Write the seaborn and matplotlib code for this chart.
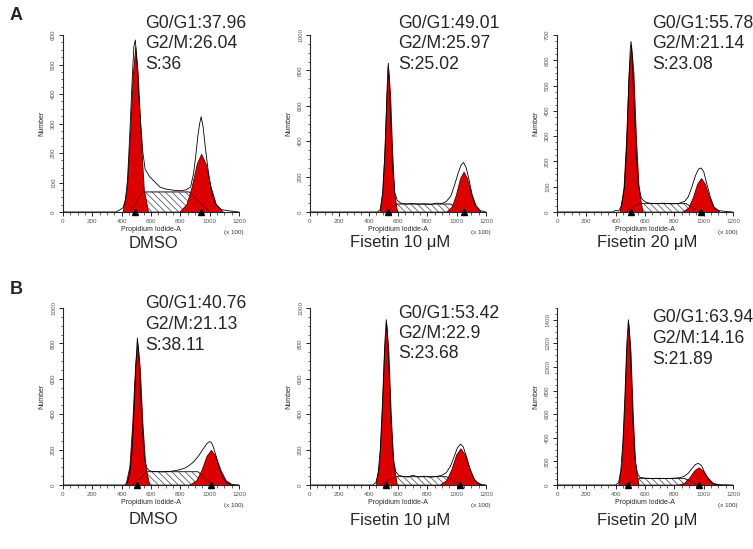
import numpy as np
import pandas as pd
import matplotlib
matplotlib.use("Agg")
import matplotlib.pyplot as plt
import seaborn as sns

# Panel order: A-DMSO, A-Fisetin10, A-Fisetin20, B-DMSO, B-Fisetin10, B-Fisetin20
conditions = ["DMSO", "Fisetin 10 μM", "Fisetin 20 μM", "DMSO", "Fisetin 10 μM", "Fisetin 20 μM"]
g1_pct = ["37.96", "49.01", "55.78", "40.76", "53.42", "63.94"]
g2m_pct = ["26.04", "25.97", "21.14", "21.13", "22.9", "14.16"]
s_pct = ["36", "25.02", "23.08", "38.11", "23.68", "21.89"]
y_max = [600, 1000, 700, 1000, 1000, 1500]
y_step = [100, 200, 100, 200, 200, 200]
x_ticks = [0, 200, 400, 600, 800, 1000, 1200]

# --- A, DMSO
a1_g1_x = [406, 435, 455, 476, 493, 510, 531, 551, 580]
a1_g1_y = [0, 76, 241, 468, 560, 468, 241, 76, 0]
a1_g2_x = [792, 842, 877, 912, 942, 972, 1007, 1042, 1092]
a1_g2_y = [0, 27, 85, 164, 197, 164, 85, 27, 0]
a1_s_x = [455, 545, 860, 1000]
a1_s_y = [0, 68, 68, 0]
a1_h_x = [0, 360, 390, 410, 425, 440, 455, 470, 483, 493, 503, 515, 530, 545, 560, 590, 630, 660,
          700, 750, 800, 840, 870, 890, 905, 920, 932, 942, 955, 970, 990, 1010, 1040, 1080, 1130, 1200]
a1_h_y = [0, 0, 8, 15, 40, 110, 260, 430, 560, 583, 520, 400, 300, 200, 145, 120, 100, 85,
          78, 74, 72, 75, 85, 130, 190, 260, 300, 323, 290, 220, 140, 75, 25, 8, 4, 0]

# --- A, Fisetin 10
a2_g1_x = [474, 494, 508, 522, 534, 546, 560, 574, 594]
a2_g1_y = [0, 108, 344, 668, 800, 668, 344, 108, 0]
a2_g2_x = [927, 967, 995, 1023, 1047, 1071, 1099, 1127, 1167]
a2_g2_y = [0, 31, 98, 190, 228, 190, 98, 31, 0]
a2_s_x = [510, 590, 960, 1040]
a2_s_y = [0, 45, 45, 0]
a2_h_x = [0, 460, 480, 495, 510, 522, 530, 534, 540, 550, 562, 578, 595, 620, 660, 700, 740, 780,
          820, 860, 900, 930, 960, 985, 1010, 1030, 1047, 1065, 1085, 1105, 1130, 1160, 1200]
a2_h_y = [0, 0, 15, 110, 320, 600, 800, 840, 760, 520, 260, 110, 65, 50, 45, 48, 44, 46,
          42, 50, 48, 60, 90, 150, 220, 265, 280, 250, 180, 100, 40, 8, 0]

# --- A, Fisetin 20
a3_g1_x = [427, 453, 471, 489, 505, 521, 539, 557, 583]
a3_g1_y = [0, 89, 284, 551, 660, 551, 284, 89, 0]
a3_g2_x = [853, 896, 926, 956, 982, 1008, 1038, 1068, 1111]
a3_g2_y = [0, 18, 58, 112, 134, 112, 58, 18, 0]
a3_s_x = [460, 560, 880, 975]
a3_s_y = [0, 33, 33, 0]
a3_h_x = [0, 380, 400, 420, 440, 460, 475, 490, 500, 505, 512, 525, 540, 555, 575, 600, 630, 680,
          730, 780, 830, 870, 895, 920, 945, 965, 982, 1000, 1020, 1045, 1070, 1100, 1150, 1200]
a3_h_y = [0, 0, 6, 4, 25, 100, 250, 520, 650, 674, 620, 430, 230, 110, 55, 40, 35, 33,
          35, 32, 34, 42, 60, 100, 145, 170, 174, 160, 115, 60, 20, 6, 2, 0]

# --- B, DMSO
b1_g1_x = [426, 453, 472, 491, 507, 523, 542, 561, 588]
b1_g1_y = [0, 108, 344, 668, 800, 668, 344, 108, 0]
b1_g2_x = [859, 909, 944, 979, 1009, 1039, 1074, 1109, 1159]
b1_g2_y = [0, 27, 85, 165, 198, 165, 85, 27, 0]
b1_s_x = [470, 575, 920, 1020]
b1_s_y = [0, 75, 75, 0]
b1_h_x = [0, 420, 440, 455, 470, 485, 498, 507, 516, 528, 542, 556, 572, 590, 620, 680, 740, 790,
          830, 860, 890, 920, 945, 965, 985, 1000, 1012, 1025, 1045, 1065, 1090, 1115, 1150, 1200]
b1_h_y = [0, 0, 15, 60, 180, 430, 700, 830, 760, 540, 300, 150, 95, 80, 76, 74, 78, 85,
          95, 110, 130, 160, 190, 215, 238, 245, 240, 215, 160, 95, 40, 12, 3, 0]

# --- B, Fisetin 10
b2_g1_x = [448, 472, 489, 506, 520, 534, 551, 568, 592]
b2_g1_y = [0, 123, 392, 762, 912, 762, 392, 123, 0]
b2_g2_x = [882, 930, 964, 997, 1026, 1055, 1088, 1122, 1170]
b2_g2_y = [0, 28, 89, 173, 207, 173, 89, 28, 0]
b2_s_x = [480, 585, 930, 1030]
b2_s_y = [0, 47, 47, 0]
b2_h_x = [0, 430, 450, 465, 480, 495, 510, 520, 528, 540, 553, 568, 585, 605, 640, 670, 700, 740,
          780, 820, 860, 900, 930, 960, 985, 1005, 1026, 1045, 1065, 1090, 1115, 1140, 1170, 1200]
b2_h_y = [0, 0, 15, 70, 210, 480, 800, 934, 860, 620, 350, 150, 75, 55, 48, 45, 55, 45,
          50, 44, 48, 55, 70, 110, 165, 210, 231, 215, 165, 95, 40, 12, 3, 0]

# --- B, Fisetin 20
b3_g1_x = [418, 441, 457, 473, 487, 501, 517, 533, 556]
b3_g1_y = [0, 184, 585, 1136, 1360, 1136, 585, 184, 0]
b3_g2_x = [821, 869, 903, 936, 965, 994, 1027, 1061, 1109]
b3_g2_y = [0, 20, 64, 124, 149, 124, 64, 20, 0]
b3_s_x = [460, 550, 870, 960]
b3_s_y = [0, 56, 56, 0]
b3_h_x = [0, 400, 420, 435, 450, 463, 476, 487, 495, 505, 518, 532, 548, 565, 600, 650, 700, 750,
          800, 840, 870, 895, 920, 945, 965, 985, 1005, 1030, 1060, 1100, 1200]
b3_h_y = [0, 0, 20, 120, 380, 750, 1200, 1400, 1280, 950, 520, 220, 100, 65, 58, 55, 57, 54,
          58, 62, 75, 100, 140, 175, 183, 165, 110, 50, 12, 3, 0]

panels = [
    (a1_g1_x, a1_g1_y, a1_g2_x, a1_g2_y, a1_s_x, a1_s_y, a1_h_x, a1_h_y),
    (a2_g1_x, a2_g1_y, a2_g2_x, a2_g2_y, a2_s_x, a2_s_y, a2_h_x, a2_h_y),
    (a3_g1_x, a3_g1_y, a3_g2_x, a3_g2_y, a3_s_x, a3_s_y, a3_h_x, a3_h_y),
    (b1_g1_x, b1_g1_y, b1_g2_x, b1_g2_y, b1_s_x, b1_s_y, b1_h_x, b1_h_y),
    (b2_g1_x, b2_g1_y, b2_g2_x, b2_g2_y, b2_s_x, b2_s_y, b2_h_x, b2_h_y),
    (b3_g1_x, b3_g1_y, b3_g2_x, b3_g2_y, b3_s_x, b3_s_y, b3_h_x, b3_h_y),
]

sns.set_style("ticks")
plt.rcParams["font.family"] = ["Liberation Sans", "DejaVu Sans"]
plt.rcParams["hatch.linewidth"] = 0.5

W, H = 753, 549
fig = plt.figure(figsize=(W / 100, H / 100), dpi=100)
fig.patch.set_facecolor("white")

col_left = [63, 310, 557]
row_top = [35, 308]
ax_w, ax_h = 176, 177
red = "#dc0000"
tick_grey = "#555555"

for i, (g1x, g1y, g2x, g2y, sx, sy, hx, hy) in enumerate(panels):
    r, c = divmod(i, 3)
    left, top = col_left[c], row_top[r]
    ax = fig.add_axes([left / W, 1 - (top + ax_h) / H, ax_w / W, ax_h / H])
    ax.set_facecolor("white")

    # S phase (hatched)
    ax.fill_between(sx, sy, 0, facecolor="white", edgecolor="#3c3c5c",
                    hatch="\\\\\\\\\\", linewidth=0.6, zorder=1)
    # G0/G1 and G2/M peaks
    for px, py in [(g1x, g1y), (g2x, g2y)]:
        ax.fill_between(px, py, 0, facecolor=red, edgecolor="#4a0000",
                        linewidth=0.6, zorder=2)
    # S phase outline seen through the peaks
    ax.plot(sx, sy, color="#4a0000", linewidth=0.5, alpha=0.7, zorder=2.5)
    # histogram outline
    df = pd.DataFrame({"x": hx, "y": hy})
    sns.lineplot(data=df, x="x", y="y", ax=ax, color="black", linewidth=0.6,
                 sort=False, estimator=None, zorder=3)

    # peak markers
    ax.plot([g1x[4], g2x[4]], [0, 0], linestyle="none", marker="^", color="black",
            markersize=4.5, clip_on=False, zorder=5)

    ax.set_xlim(0, 1200)
    ax.set_ylim(0, y_max[i])
    ax.set_xticks(x_ticks)
    ax.set_xticks(np.arange(0, 1201, 50), minor=True)
    yt = np.arange(0, y_max[i] + 1, y_step[i])
    ax.set_yticks(yt)
    ax.set_yticks(np.arange(0, y_max[i] + 1, y_step[i] / 4), minor=True)
    ax.set_yticklabels([str(int(v)) for v in yt], rotation=90, va="center")
    ax.tick_params(axis="both", which="major", labelsize=4.5, length=3, width=0.6,
                   pad=2, colors="black", labelcolor=tick_grey)
    ax.tick_params(axis="both", which="minor", length=1.8, width=0.5)
    for s in ["top", "right"]:
        ax.spines[s].set_visible(False)
    for s in ["left", "bottom"]:
        ax.spines[s].set_linewidth(0.8)

    ax.set_xlabel("Propidium Iodide-A", fontsize=5, labelpad=1.5)
    ax.set_ylabel("Number", fontsize=5, labelpad=4)
    ax.text(0.97, -0.1, "(x 100)", transform=ax.transAxes, fontsize=4.5,
            ha="center", va="top", color="#333333")

    # percentages
    tx = left + [82, 88, 95][c]
    ty = [[23, 23, 23], [304, 313, 318]][r][c]
    for k, line in enumerate([f"G0/G1:{g1_pct[i]}", f"G2/M:{g2m_pct[i]}", f"S:{s_pct[i]}"]):
        fig.text(tx / W, 1 - (ty + k * 20.5) / H, line, fontsize=12.7,
                 ha="left", va="center")

    # condition label
    cy = [243, 520][r]
    fig.text((left + ax_w / 2 + 2) / W, 1 - cy / H, conditions[i], fontsize=12,
             ha="center", va="center")

fig.text(10 / W, 1 - 15 / H, "A", fontsize=13, fontweight="bold", ha="left", va="center")
fig.text(10 / W, 1 - 290 / H, "B", fontsize=13, fontweight="bold", ha="left", va="center")

fig.savefig("out.png", dpi=100, facecolor="white")
